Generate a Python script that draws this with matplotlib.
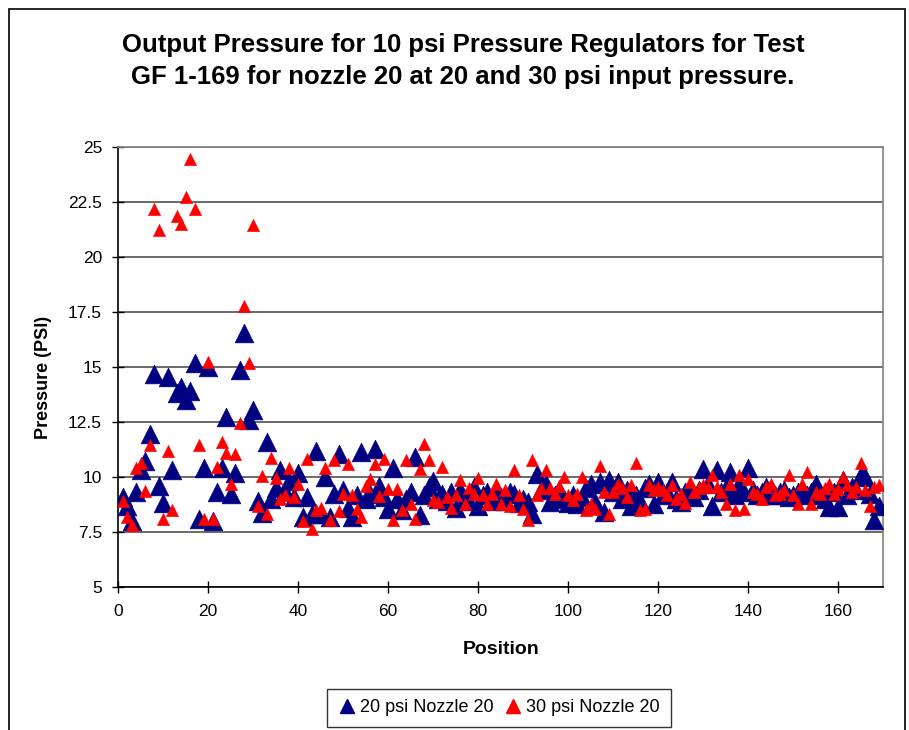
import matplotlib
matplotlib.use("Agg")
import matplotlib.pyplot as plt
from matplotlib.patches import Rectangle
from matplotlib.lines import Line2D

plt.rcParams['font.family'] = ['Liberation Sans', 'DejaVu Sans']

positions = list(range(1, 170))

psi20 = [9.1, 8.7, 8.0, 9.3, 10.3, 10.75, 11.95, 14.7, 9.6, 8.8,
         14.55, 10.3, 13.8, 14.1, 13.5, 13.9, 15.2, 8.1, 10.4, 15.0,
         8.0, 9.3, 10.4, 12.75, 9.25, 10.2, 14.85, 16.55, 12.6, 13.05,
         8.9, 8.35, 11.6, 9.0, 9.5, 10.3, 9.35, 9.8, 9.1, 10.2,
         8.2, 9.1, 8.3, 11.2, 8.3, 10.0, 8.2, 9.24, 11.06, 9.4,
         8.6, 8.2, 9.17, 11.14, 9.0, 9.24, 11.29, 9.6, 9.1, 8.56,
         10.4, 9.0, 8.5, 9.0, 9.3, 10.9, 8.26, 9.2, 9.55, 9.8,
         9.0, 9.24, 8.9, 9.3, 8.6, 9.4, 9.0, 8.9, 9.55, 8.7,
         9.2, 9.3, 8.9, 9.4, 9.1, 8.9, 9.3, 9.24, 8.8, 9.0,
         8.86, 8.33, 10.15, 9.4, 9.7, 8.86, 9.2, 9.4, 9.0, 8.8,
         9.17, 8.79, 9.1, 9.5, 9.7, 8.86, 9.77, 8.4, 9.85, 9.3,
         9.77, 9.0, 9.4, 8.7, 9.2, 8.9, 9.5, 9.7, 8.79, 9.77,
         9.2, 9.3, 9.77, 9.0, 8.86, 9.3, 9.5, 9.1, 9.4, 10.38,
         9.7, 8.7, 10.3, 9.3, 9.5, 10.23, 9.17, 9.7, 9.3, 10.42,
         9.4, 9.2, 9.3, 9.55, 9.2, 9.17, 9.3, 9.4, 9.1, 9.17,
         9.3, 9.47, 9.2, 9.3, 9.7, 9.2, 9.0, 8.64, 9.3, 8.64,
         9.85, 9.2, 9.55, 9.4, 10.08, 10.0, 9.24, 8.03, 8.7]

psi30 = [8.9, 8.2, 7.8, 10.4, 10.64, 9.36, 11.44, 22.17, 21.24, 8.1,
         11.18, 8.5, 21.85, 21.5, 22.73, 24.47, 22.17, 11.44, 8.1, 15.23,
         8.1, 10.45, 11.6, 11.1, 9.7, 11.06, 12.47, 17.77, 15.2, 21.44,
         8.7, 10.05, 8.33, 10.88, 9.95, 9.0, 9.2, 10.4, 9.1, 9.7,
         8.0, 10.8, 7.65, 8.5, 8.6, 10.4, 8.06, 10.76, 8.45, 9.24,
         10.6, 9.17, 8.56, 8.18, 9.58, 9.92, 10.6, 9.14, 10.83, 9.47,
         8.06, 9.47, 8.48, 10.76, 8.79, 8.1, 10.38, 11.5, 10.76, 8.94,
         8.86, 10.45, 9.09, 8.6, 9.17, 9.88, 8.79, 9.5, 9.24, 9.97,
         9.17, 8.79, 9.24, 9.7, 8.79, 9.4, 8.67, 10.3, 9.17, 8.56,
         8.03, 10.76, 9.17, 9.52, 10.33, 9.52, 9.24, 9.6, 10.0, 9.17,
         8.94, 9.24, 10.0, 8.48, 8.76, 8.56, 10.48, 9.3, 8.33, 9.3,
         9.7, 9.5, 9.09, 9.62, 10.64, 8.48, 8.56, 9.62, 9.4, 9.55,
         9.4, 9.2, 9.62, 9.0, 9.24, 8.82, 9.77, 9.3, 9.5, 9.62,
         9.55, 10.08, 9.55, 9.3, 8.79, 9.7, 8.48, 10.08, 8.56, 9.92,
         9.32, 9.24, 9.0, 9.55, 9.7, 9.17, 9.24, 9.4, 10.08, 9.17,
         8.79, 9.7, 10.23, 8.79, 9.3, 9.24, 9.5, 9.7, 9.24, 9.47,
         10.0, 9.62, 9.3, 9.55, 10.64, 9.4, 8.7, 9.55, 9.62]

yticks = [5, 7.5, 10, 12.5, 15, 17.5, 20, 22.5, 25]
ytick_labels = ["5", "7.5", "10", "12.5", "15", "17.5", "20", "22.5", "25"]
xticks = [0, 20, 40, 60, 80, 100, 120, 140, 160]

navy = '#000080'
red = '#FF0000'

fig = plt.figure(figsize=(9.09, 7.30), dpi=100)
ax = fig.add_axes([118 / 909, 1 - 587 / 730, (883 - 118) / 909, (587 - 147) / 730])

ax.scatter(positions, psi20, marker='^', s=180, color=navy, edgecolors=navy,
           linewidths=0.5, zorder=3)
ax.scatter(positions, psi30, marker='^', s=80, color=red, edgecolors=red,
           linewidths=0.3, zorder=4)

ax.set_xlim(0, 170)
ax.set_ylim(5, 25)
ax.set_yticks(yticks)
ax.set_yticklabels(ytick_labels)
ax.set_xticks(xticks)
ax.tick_params(axis='both', labelsize=12.5, direction='inout', length=9, width=1, color='black')
ax.tick_params(axis='y', pad=7)
ax.tick_params(axis='x', pad=8)
ax.yaxis.grid(True, color='#505050', linewidth=1.2)
ax.set_axisbelow(True)

for side in ['top', 'right']:
    ax.spines[side].set_color('#808080')
    ax.spines[side].set_linewidth(1.2)
for side in ['left', 'bottom']:
    ax.spines[side].set_color('black')
    ax.spines[side].set_linewidth(1.2)

fig.text(501 / 909, 1 - 650 / 730, 'Position', ha='center', va='center',
         fontsize=14, fontweight='bold')
fig.text(43 / 909, 1 - 377 / 730, 'Pressure (PSI)', ha='center', va='center',
         rotation=90, fontsize=13, fontweight='bold')

fig.text(463 / 909, 1 - 61 / 730, 'Output Pressure for 10 psi Pressure Regulators for Test\n'
         'GF 1-169 for nozzle 20 at 20 and 30 psi input pressure.',
         ha='center', va='center', fontsize=18.5, fontweight='bold', linespacing=1.45)

handles = [Line2D([], [], linestyle='none', marker='^', markersize=10, color=navy),
           Line2D([], [], linestyle='none', marker='^', markersize=10, color=red)]
leg = fig.legend(handles, ['20 psi Nozzle 20', '30 psi Nozzle 20'], loc='center',
                 bbox_to_anchor=(499 / 909, 1 - 708 / 730), ncol=2,
                 fontsize=13, frameon=True, fancybox=False, edgecolor='black',
                 handletextpad=0.2, columnspacing=0.6, borderpad=0.6,
                 handlelength=1.0, borderaxespad=0)
leg.get_frame().set_linewidth(1.0)

fig.patches.append(Rectangle((9 / 909, -0.01), (905 - 9) / 909, 1 - 9 / 730 + 0.01,
                             transform=fig.transFigure, fill=False,
                             edgecolor='black', linewidth=1.2))

fig.savefig('out.png', dpi=100)
